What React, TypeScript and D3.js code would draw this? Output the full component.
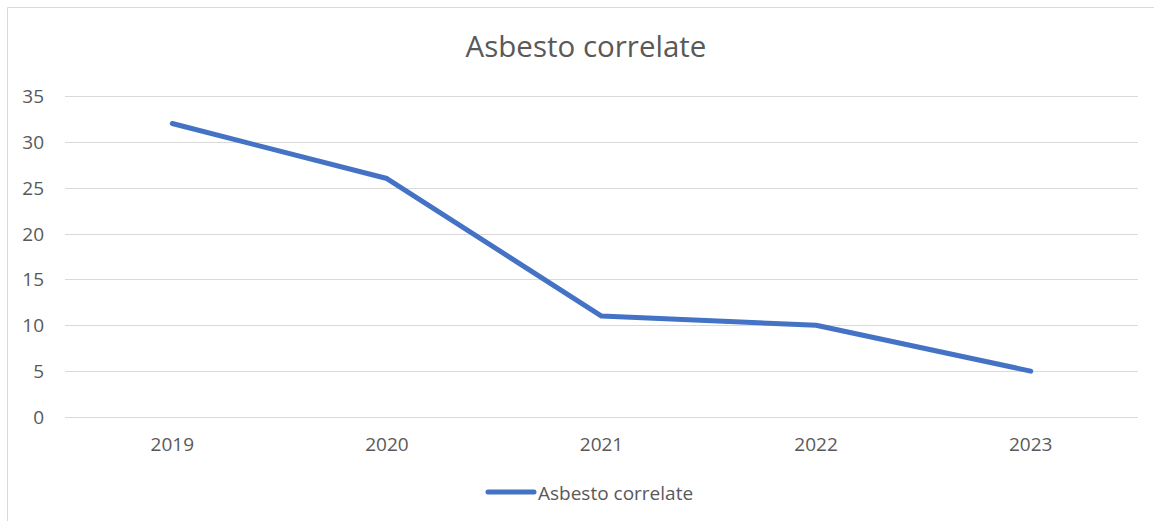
import React from "react";
import * as d3 from "d3";

const categories = ["2019", "2020", "2021", "2022", "2023"];
const values = [32, 26, 11, 10, 5];
const yTicks = [0, 5, 10, 15, 20, 25, 30, 35];
const seriesName = "Asbesto correlate";
const title = "Asbesto correlate";

const W = 1154;
const H = 521;
const FONT = "'Open Sans', 'Noto Sans', sans-serif";

export default function App() {
  const x = d3.scaleBand<string>().domain(categories).range([65, 1138]);
  const y = d3.scaleLinear().domain([0, 35]).range([417, 96]);
  const line = d3
    .line<number>()
    .x((_, i) => (x(categories[i]) as number) + x.bandwidth() / 2)
    .y((d) => y(d));

  return (
    <svg
      width={W}
      height={H}
      style={{ position: "absolute", left: 0, top: 0, background: "#fff" }}
    >
      <line x1={7.5} x2={W} y1={7.5} y2={7.5} stroke="#d9d9d9" strokeWidth={1} />
      <line x1={7.5} x2={7.5} y1={7.5} y2={H} stroke="#d9d9d9" strokeWidth={1} />
      <text
        x={586}
        y={57}
        textAnchor="middle"
        fontFamily={FONT}
        fontSize={29.5}
        fill="#595959"
      >
        {title}
      </text>
      {yTicks.map((t) => (
        <g key={t}>
          <line
            x1={65}
            x2={1138}
            y1={Math.round(y(t)) + 0.5}
            y2={Math.round(y(t)) + 0.5}
            stroke="#d9d9d9"
            strokeWidth={1}
          />
          <text
            x={44}
            y={y(t) + 7}
            textAnchor="end"
            fontFamily={FONT}
            fontSize={19}
            fill="#595959"
          >
            {t}
          </text>
        </g>
      ))}
      {categories.map((c) => (
        <text
          key={c}
          x={(x(c) as number) + x.bandwidth() / 2}
          y={451}
          textAnchor="middle"
          fontFamily={FONT}
          fontSize={19}
          fill="#595959"
        >
          {c}
        </text>
      ))}
      <path
        d={line(values) || ""}
        fill="none"
        stroke="#4472c4"
        strokeWidth={5}
        strokeLinecap="round"
        strokeLinejoin="round"
      />
      <line
        x1={488}
        x2={534}
        y1={492}
        y2={492}
        stroke="#4472c4"
        strokeWidth={5}
        strokeLinecap="round"
      />
      <text x={538} y={500} fontFamily={FONT} fontSize={19} fill="#595959">
        {seriesName}
      </text>
    </svg>
  );
}
